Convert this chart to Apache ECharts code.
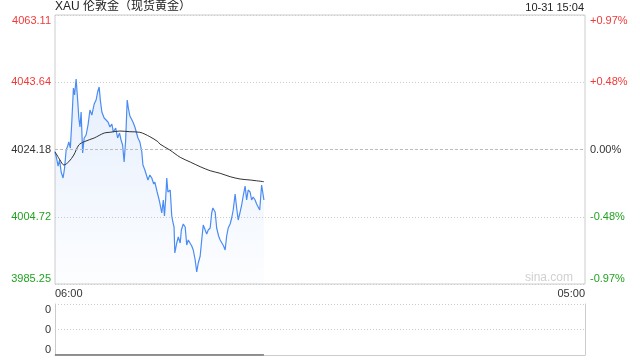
<!DOCTYPE html>
<html>
<head>
<meta charset="utf-8">
<script src="https://cdn.jsdelivr.net/npm/echarts@6/dist/echarts.min.js"></script>
<style>
html,body{margin:0;padding:0;background:#fff;}
#c{width:640px;height:360px;}
</style>
</head>
<body>
<div id="c"></div>
<script>
var titleText = 'XAU 伦敦金（现货黄金）';
var stampText = '10-31 15:04';
var prevClose = 4024.18;
var priceMin = 3985.25, priceMax = 4063.11;
var leftLabels = ['3985.25', '4004.72', '4024.18', '4043.64', '4063.11'];
var rightLabels = ['-0.97%', '-0.48%', '0.00%', '+0.48%', '+0.97%'];
var xLabels = ['06:00', '05:00'];
var volLabels = ['0', '0', '0'];

var times = ['06:00','06:04','06:08','06:12','06:16','06:21','06:25','06:29','06:33','06:36','06:40','06:44','06:48','06:51','06:55','06:59',
'07:02','07:05','07:08','07:12','07:16','07:21','07:26','07:31','07:36','07:42','07:47','07:51','07:55','07:58',
'08:02','08:08','08:13','08:18','08:23','08:28','08:32','08:38','08:43','08:48','08:52','08:56',
'09:00','09:04','09:08','09:11','09:15','09:19','09:23','09:28','09:33','09:36','09:41','09:46','09:49','09:54','09:58',
'10:02','10:07','10:12','10:17','10:20','10:26','10:30','10:33','10:38','10:42','10:45','10:48','10:51','10:54',
'11:00','11:04','11:07','11:10','11:12','11:17','11:21','11:26','11:29','11:34','11:39','11:43','11:47','11:52','11:56',
'12:00','12:05','12:09','12:13','12:18','12:22','12:26','12:31','12:35','12:39','12:44','12:48','12:51','12:57',
'13:01','13:06','13:10','13:15','13:19','13:23','13:27','13:31','13:36','13:40','13:44','13:49','13:53','13:57',
'14:02','14:06','14:10','14:15','14:19','14:23','14:28','14:32','14:36','14:41','14:45','14:49','14:53','14:58','15:04'];

var prices = [4023.46,4021.72,4019.40,4021.14,4017.67,4015.93,4018.82,4024.03,4025.19,4026.35,4024.61,4032.72,4041.98,4039.95,4044.58,4038.51,
4033.30,4030.69,4035.03,4023.17,4027.51,4028.38,4031.27,4035.61,4034.16,4037.35,4038.51,4040.82,4042.27,4038.51,
4035.03,4033.30,4033.87,4032.14,4030.69,4031.56,4029.24,4030.40,4027.51,4028.95,4026.93,4025.48,
4020.56,4026.93,4038.51,4036.19,4033.87,4033.30,4032.14,4030.69,4030.40,4027.51,4026.35,4023.46,4019.69,4018.25,4018.82,
4015.35,4016.80,4015.93,4014.19,4014.77,4011.88,4010.14,4008.69,4005.80,4009.56,4004.93,4009.56,4015.93,4011.88,
4012.46,4004.93,4003.19,4001.75,3994.22,3997.12,3998.85,3997.12,4000.88,4002.62,4001.75,3996.54,3997.98,3997.98,3996.25,
3995.09,3992.20,3988.72,3991.33,3993.35,3997.98,4002.33,4002.90,3999.72,4000.88,4001.46,4005.80,4007.25,4006.09,
4001.46,3999.14,3997.98,3997.41,3996.25,3995.09,3999.14,4001.46,4002.62,4004.35,4006.67,4011.30,4007.25,4003.77,
4006.09,4008.11,4010.72,4013.61,4009.56,4012.46,4011.88,4009.56,4010.43,4009.56,4008.40,4007.54,4006.67,4013.90,4009.56];

var avgTimes = ['06:00','06:13','06:23','06:36','06:49','07:02','07:16','07:42','08:08','08:23','08:49','09:15','09:41','10:07','10:28','10:33','10:59','11:26','11:52','12:18','12:44','13:10','13:36','14:02','14:28','15:04'];
var avgPrices = [4023.54,4021.14,4019.69,4020.65,4022.59,4025.48,4026.44,4027.51,4028.95,4029.16,4029.53,4029.33,4029.16,4027.88,4026.44,4025.77,4024.03,4021.92,4020.56,4019.20,4018.04,4017.29,4016.31,4015.64,4015.35,4014.86];

var volTimes = ['06:00', '15:04'];
var volumes = [0, 0];

var SESSION_MINUTES = 1380;
function toMin(t) {
  var p = t.split(':');
  return ((+p[0] * 60 + +p[1]) - 360 + 1440) % 1440;
}
function pairs(ts, vs) {
  return ts.map(function (t, i) { return [toMin(t), vs[i]]; });
}

var RED = '#f03a3a', GREEN = '#21a321', DARK = '#333';
function tickColor(v) { return v < 2 ? GREEN : (v > 2 ? RED : DARK); }

var chart = echarts.init(document.getElementById('c'), null, { renderer: 'canvas' });
chart.setOption({
  animation: false,
  backgroundColor: '#fff',
  textStyle: { fontFamily: 'Arial, "Liberation Sans", "Noto Sans CJK SC", sans-serif' },
  graphic: [
    { type: 'text', left: 55, top: 1, style: { text: titleText, fontSize: 12, fill: '#222', fontFamily: 'Arial, "Liberation Sans", "Noto Sans CJK SC", sans-serif' } },
    { type: 'text', right: 56, top: 2, style: { text: stampText, fontSize: 11, fill: '#222', fontFamily: 'Arial, "Liberation Sans", sans-serif' } },
    { type: 'text', right: 67, top: 272, style: { text: 'sina.com', fontSize: 12, fill: '#d0d0d0', fontFamily: 'Arial, "Liberation Sans", sans-serif' } }
  ],
  grid: [
    { left: 55, right: 55, top: 15, height: 269, show: true, borderColor: '#ccc', borderWidth: 1 },
    { left: 55, right: 55, top: 304, height: 51, show: false }
  ],
  xAxis: [
    { type: 'value', gridIndex: 0, min: 0, max: SESSION_MINUTES, interval: SESSION_MINUTES,
      axisLine: { show: false }, axisTick: { show: false }, splitLine: { show: false },
      axisLabel: { margin: 4, fontSize: 11, color: DARK, alignMinLabel: 'left', alignMaxLabel: 'right',
        formatter: function (v) { return v === 0 ? xLabels[0] : xLabels[1]; } } },
    { type: 'value', gridIndex: 1, min: 0, max: SESSION_MINUTES, interval: SESSION_MINUTES,
      axisLine: { show: true, lineStyle: { color: '#ccc' } }, axisTick: { show: false },
      splitLine: { show: false }, axisLabel: { show: false } }
  ],
  yAxis: [
    { type: 'value', gridIndex: 0, position: 'left', min: 0, max: 4, interval: 1,
      axisLine: { show: false }, axisTick: { show: false },
      splitLine: { show: true, lineStyle: { color: ['#ccc', '#ccc', 'rgba(0,0,0,0)', '#ccc', '#ccc'], type: [1, 2], width: 1 } },
      axisLabel: { margin: 4, fontSize: 11, verticalAlignMinLabel: 'bottom', verticalAlignMaxLabel: 'top',
        formatter: function (v) { return leftLabels[v]; },
        color: function (v) { return tickColor(+v); } } },
    { type: 'value', gridIndex: 0, position: 'right', min: 0, max: 4, interval: 1,
      axisLine: { show: false }, axisTick: { show: false }, splitLine: { show: false },
      axisLabel: { margin: 5, fontSize: 11, verticalAlignMinLabel: 'bottom', verticalAlignMaxLabel: 'top',
        formatter: function (v) { return rightLabels[v]; },
        color: function (v) { return tickColor(+v); } } },
    { type: 'value', gridIndex: 0, min: priceMin, max: priceMax, show: false, splitLine: { show: false } },
    { type: 'value', gridIndex: 1, position: 'left', min: 0, max: 2, interval: 1,
      axisLine: { show: true, lineStyle: { color: '#ccc' } }, axisTick: { show: false },
      splitLine: { show: true, lineStyle: { color: '#ccc', type: [1, 2] } },
      axisLabel: { margin: 4, fontSize: 11, color: DARK, verticalAlignMinLabel: 'bottom', verticalAlignMaxLabel: 'top',
        formatter: function (v) { return volLabels[v]; } } },
    { type: 'value', gridIndex: 1, position: 'right', min: 0, max: 2, interval: 1,
      axisLine: { show: true, lineStyle: { color: '#ccc' } }, axisTick: { show: false },
      splitLine: { show: false }, axisLabel: { show: false } }
  ],
  series: [
    { type: 'line', name: 'price', xAxisIndex: 0, yAxisIndex: 2, data: pairs(times, prices),
      showSymbol: false, symbol: 'none', silent: true,
      lineStyle: { color: '#4a8cf3', width: 1.2 },
      areaStyle: { origin: 'start', color: new echarts.graphic.LinearGradient(0, 0, 0, 1, [
        { offset: 0, color: 'rgba(74,140,243,0.20)' },
        { offset: 1, color: 'rgba(74,140,243,0.02)' }]) },
      markLine: { silent: true, symbol: 'none', label: { show: false },
        lineStyle: { color: '#bbb', type: [3, 2], width: 1 },
        data: [{ yAxis: prevClose }] },
      z: 3 },
    { type: 'line', name: 'avg', xAxisIndex: 0, yAxisIndex: 2, data: pairs(avgTimes, avgPrices),
      showSymbol: false, symbol: 'none', smooth: 0.3, silent: true,
      lineStyle: { color: '#333', width: 1 }, z: 4 },
    { type: 'line', name: 'vol', xAxisIndex: 1, yAxisIndex: 3, data: pairs(volTimes, volumes),
      showSymbol: false, symbol: 'none', silent: true,
      lineStyle: { color: '#666', width: 1.5 }, z: 5 }
  ]
});
</script>
</body>
</html>
